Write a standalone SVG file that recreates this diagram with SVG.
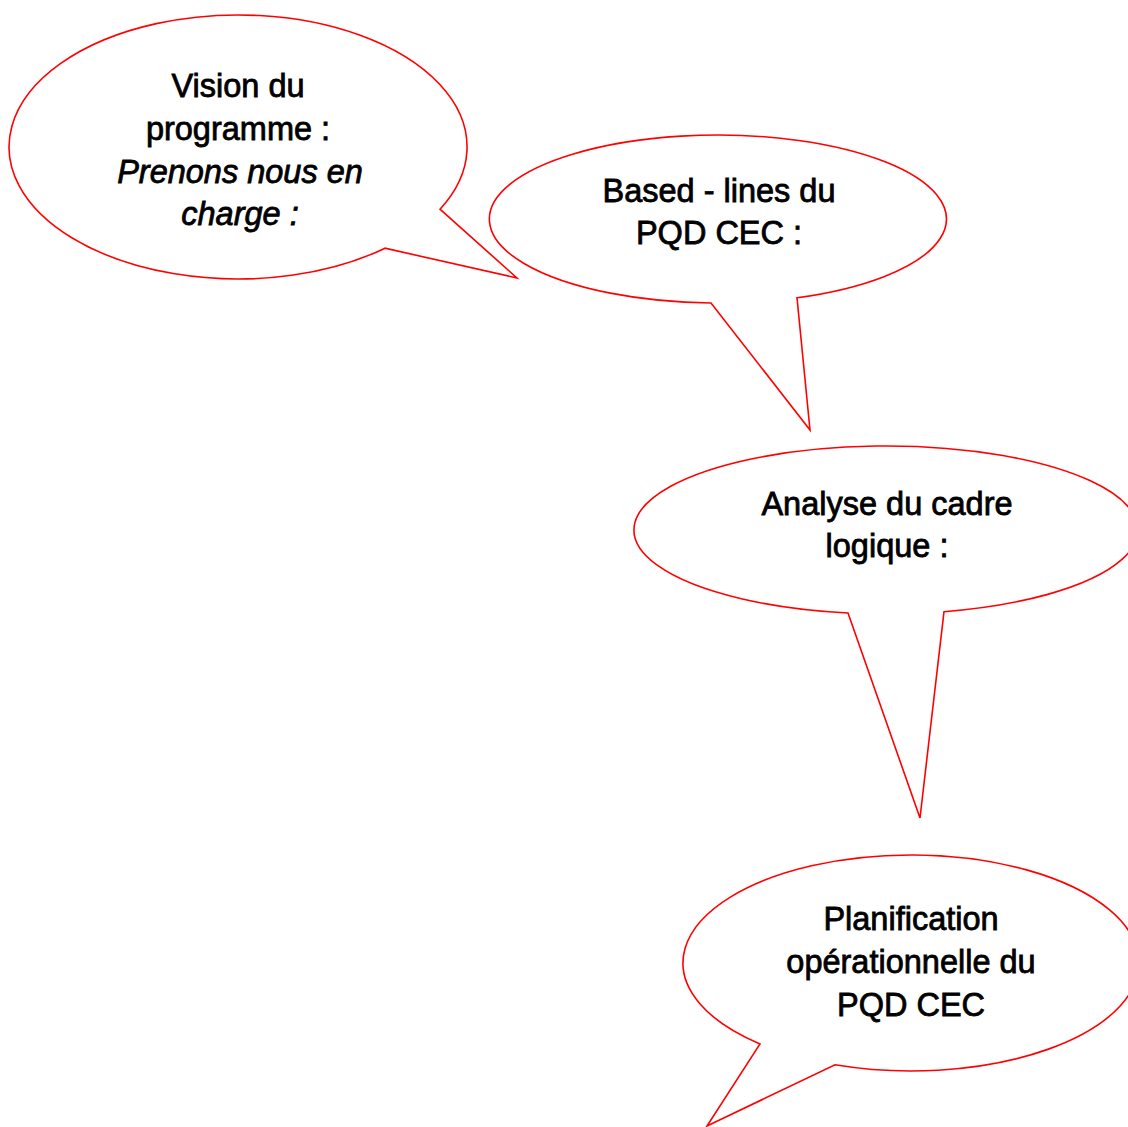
<svg xmlns="http://www.w3.org/2000/svg" width="1128" height="1127" viewBox="0 0 1128 1127">
<style>
.bubble{fill:#fff;stroke:#f00;stroke-width:1.6;stroke-linejoin:miter}
.t{font-family:"Liberation Sans",Arial,sans-serif;font-size:32.5px;fill:#000;stroke:#000;stroke-width:0.8;text-anchor:middle}
.i{font-style:italic}
</style>
<rect width="1128" height="1127" fill="#fff"/>
<g id="node-vision">
<path class="bubble" d="M 440 209.2 A 229 132 0 1 0 385 248.2 L 517 278 Z"/>
<text class="t" x="238" y="97">Vision du</text>
<text class="t" x="238" y="140">programme :</text>
<text class="t i" x="240" y="183">Prenons nous en</text>
<text class="t i" x="240" y="225">charge :</text>
</g>
<g id="node-baselines">
<path class="bubble" d="M 797 297.8 A 228.5 84 0 1 0 711 302.96 L 810 430 Z"/>
<text class="t" x="719" y="202">Based - lines du</text>
<text class="t" x="719" y="244">PQD CEC :</text>
</g>
<g id="node-analyse">
<path class="bubble" d="M 944 611.7 A 252 84 0 1 0 848 613 L 920 818 Z"/>
<text class="t" x="887" y="515">Analyse du cadre</text>
<text class="t" x="887" y="557">logique :</text>
</g>
<g id="node-planification">
<path class="bubble" d="M 835 1064.8 A 228 108 0 1 0 760 1043.9 L 707 1126 Z"/>
<text class="t" x="911" y="930">Planification</text>
<text class="t" x="911" y="973">opérationnelle du</text>
<text class="t" x="911" y="1016">PQD CEC</text>
</g>
<g id="connectors"></g>
</svg>
